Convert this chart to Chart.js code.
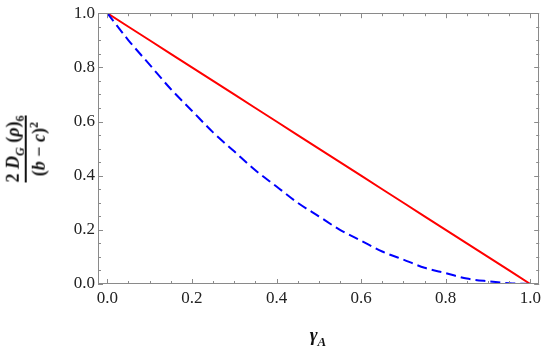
<!DOCTYPE html>
<html>
<head>
<meta charset="utf-8">
<script src="https://cdn.jsdelivr.net/npm/chart.js@4/dist/chart.umd.min.js"></script>
<style>
  html, body { margin:0; padding:0; background:#fff; }
  #wrap { position:relative; width:545px; height:348px; }
  #c { position:absolute; left:0; top:0; }
  .title { position:absolute; font-family:"Liberation Serif", "Times New Roman", Times, serif; font-weight:bold; color:#111; white-space:nowrap; }
  #ytitle { left:26px; top:149px; transform:translate(-50%,-50%) rotate(-90deg); text-align:center; font-size:18px; line-height:19px; }
  #ytitle .bar { height:1.5px; background:#111; margin:2px 0 3px 0; }
  #ytitle sub, #ytitle sup { font-size:12px; line-height:0; }
  #xtitle { left:318px; top:335px; transform:translate(-50%,-50%); font-size:19px; font-style:italic; }
  #xtitle sub { font-size:13px; line-height:0; }
</style>
</head>
<body>
<div id="wrap">
  <canvas id="c" width="545" height="348"></canvas>
  <div id="ytitle" class="title">
    <div>2 <i>D</i><sub><i>G</i></sub> (<i>ρ</i>)<sub>6</sub></div>
    <div class="bar"></div>
    <div>(<i>b</i> − <i>c</i>)<sup>2</sup></div>
  </div>
  <div id="xtitle" class="title">γ<sub>A</sub></div>
</div>
<script>
const xValues = [0, 0.05, 0.1, 0.15, 0.2, 0.25, 0.3, 0.35, 0.4, 0.45, 0.5, 0.55, 0.6, 0.65, 0.7, 0.75, 0.8, 0.85, 0.9, 0.95, 1.0];
const redValues = [1.0, 0.95, 0.90, 0.85, 0.80, 0.75, 0.70, 0.65, 0.60, 0.55, 0.50, 0.45, 0.40, 0.35, 0.30, 0.25, 0.20, 0.15, 0.10, 0.05, 0.0];
const blueValues = [1.0, 0.90, 0.81, 0.72, 0.64, 0.56, 0.49, 0.42, 0.36, 0.30, 0.25, 0.20, 0.16, 0.12, 0.09, 0.06, 0.04, 0.02, 0.01, 0.003, 0.0];
const xTickLabels = [0, 0.2, 0.4, 0.6, 0.8, 1.0];
const yTickLabels = [0, 0.2, 0.4, 0.6, 0.8, 1.0];
const minorStep = 0.05;

const toPts = (ys) => xValues.map((x, i) => ({x: x, y: ys[i]}));
const serif = "'Liberation Serif', 'Times New Roman', serif";
Chart.defaults.font.family = serif;
Chart.defaults.font.size = 17;
Chart.defaults.color = '#222';

const frameColor = '#8a8a8a';
const framePlugin = {
  id: 'frame',
  afterDatasetsDraw(chart) {
    const {ctx, chartArea: a, scales: {x, y}} = chart;
    ctx.save();
    ctx.strokeStyle = frameColor;
    ctx.lineWidth = 1;
    ctx.strokeRect(Math.round(a.left) + 0.5, Math.round(a.top) + 0.5, Math.round(a.right - a.left) - 1, Math.round(a.bottom - a.top) - 1);
    ctx.beginPath();
    for (let i = 0; i <= 20; i++) {
      const v = i * minorStep;
      const major = i % 4 === 0;
      const len = major ? 5 : 3;
      const px = Math.round(x.getPixelForValue(v)) + 0.5;
      ctx.moveTo(px, a.bottom); ctx.lineTo(px, a.bottom - len);
      ctx.moveTo(px, a.top); ctx.lineTo(px, a.top + len);
      const py = Math.round(y.getPixelForValue(v)) + 0.5;
      ctx.moveTo(a.left, py); ctx.lineTo(a.left + len, py);
      ctx.moveTo(a.right, py); ctx.lineTo(a.right - len, py);
    }
    ctx.stroke();
    ctx.restore();
  }
};

new Chart(document.getElementById('c'), {
  type: 'line',
  data: {
    datasets: [
      { label: 'blue', data: toPts(blueValues), borderColor: '#0000ff', borderWidth: 2, borderDash: [10, 5], pointRadius: 0, tension: 0.4, cubicInterpolationMode: 'monotone', fill: false },
      { label: 'red', data: toPts(redValues), borderColor: '#ff0000', borderWidth: 2, pointRadius: 0, tension: 0, fill: false }
    ]
  },
  options: {
    responsive: false,
    animation: false,
    events: [],
    layout: { padding: { top: 12, right: 4, left: 0, bottom: 0 } },
    plugins: { legend: { display: false }, tooltip: { enabled: false } },
    scales: {
      x: {
        type: 'linear', min: -0.022, max: 1.021,
        grid: { display: false, drawTicks: false },
        border: { display: false },
        afterBuildTicks: (s) => { s.ticks = xTickLabels.map(v => ({value: v})); },
        afterFit: (s) => { s.height = 64; },
        ticks: { padding: 4, color: '#222', font: { family: serif, size: 17 }, callback: (v) => Number(v).toFixed(1), maxRotation: 0, autoSkip: false }
      },
      y: {
        type: 'linear', min: 0, max: 1,
        grid: { display: false, drawTicks: false },
        border: { display: false },
        afterBuildTicks: (s) => { s.ticks = yTickLabels.map(v => ({value: v})); },
        afterFit: (s) => { s.width = 98; },
        ticks: { padding: 3, color: '#222', font: { family: serif, size: 17 }, callback: (v) => Number(v).toFixed(1), autoSkip: false }
      }
    }
  },
  plugins: [framePlugin]
});
</script>
</body>
</html>
